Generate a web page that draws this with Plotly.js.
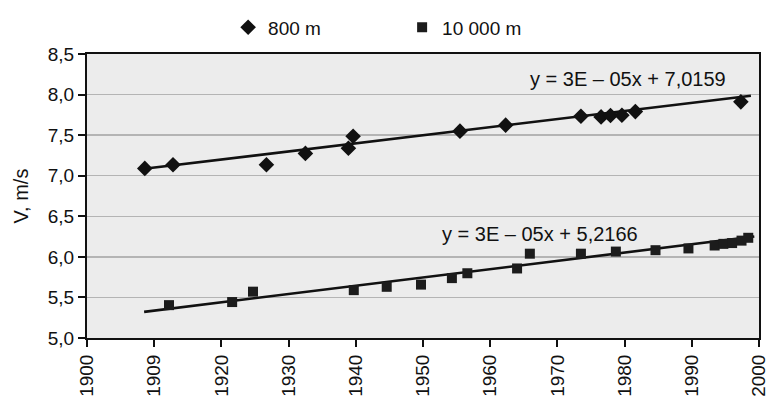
<!DOCTYPE html>
<html>
<head>
<meta charset="utf-8">
<script src="https://cdn.plot.ly/plotly-3.0.1.min.js"></script>
<style>html,body{margin:0;padding:0;background:#fff;}#chart{width:768px;height:399px;}</style>
</head>
<body>
<div id="chart"></div>
<script>
// 800 m world-record speeds (year, m/s)
const years800 = [1908.6, 1912.8, 1926.7, 1932.5, 1938.9, 1939.6, 1955.5, 1962.3, 1973.5, 1976.5, 1977.9, 1979.6, 1981.6, 1997.3];
const speed800 = [7.09, 7.135, 7.135, 7.275, 7.338, 7.487, 7.549, 7.623, 7.733, 7.725, 7.742, 7.745, 7.79, 7.91];
// 10 000 m
const years10k = [1912.2, 1921.6, 1924.7, 1939.7, 1944.6, 1949.7, 1954.3, 1956.6, 1964.0, 1965.9, 1973.5, 1978.7, 1984.6, 1989.5, 1993.4, 1994.7, 1996.0, 1997.4, 1998.4];
const speed10k = [5.405, 5.443, 5.571, 5.59, 5.631, 5.658, 5.738, 5.798, 5.857, 6.039, 6.039, 6.065, 6.082, 6.104, 6.14, 6.16, 6.17, 6.2, 6.235];
// linear trend lines (end points)
const trend800X = [1908.5, 1998.8];
const trend800Y = [7.085, 7.985];
const trend10kX = [1908.5, 1999.3];
const trend10kY = [5.322, 6.25];
const trendLabels = ["y = 3E – 05x + 7,0159", "y = 3E – 05x + 5,2166"];
const seriesNames = ["800 m", "10 000 m"];
const xTickVals = [1900, 1910, 1920, 1930, 1940, 1950, 1960, 1970, 1980, 1990, 2000];
const xTickText = ["1900", "1909", "1920", "1930", "1940", "1950", "1960", "1970", "1980", "1990", "2000"];

const FONT = "Liberation Sans, Arial, sans-serif";
const data = [
  {x: trend800X, y: trend800Y, mode: "lines", line: {color: "#111", width: 2.6}, showlegend: false, hoverinfo: "skip"},
  {x: trend10kX, y: trend10kY, mode: "lines", line: {color: "#111", width: 2.6}, showlegend: false, hoverinfo: "skip"},
  {x: years800, y: speed800, name: seriesNames[0], mode: "markers", type: "scatter",
   marker: {symbol: "diamond", size: 12, color: "#111"}},
  {x: years10k, y: speed10k, name: seriesNames[1], mode: "markers", type: "scatter",
   marker: {symbol: "square", size: 10, color: "#1c1c1c"}}
];
const layout = {
  width: 768, height: 399,
  margin: {l: 87, r: 9, t: 53, b: 61},
  paper_bgcolor: "#ffffff",
  plot_bgcolor: "#ececec",
  separators: ", ",
  font: {family: FONT, color: "#111", size: 18},
  showlegend: true,
  legend: {orientation: "h", x: 0.21, y: 1.09, xanchor: "left", yanchor: "middle",
           font: {size: 19, family: FONT, color: "#111"}, bgcolor: "rgba(0,0,0,0)", entrywidth: 129, entrywidthmode: "pixels"},
  xaxis: {range: [1900, 2000], tickmode: "array", tickvals: xTickVals, ticktext: xTickText,
          tickangle: -90, ticks: "outside", ticklen: 7, tickwidth: 2, tickcolor: "#111",
          ticklabeloverflow: "allow",
          showline: true, linecolor: "#111", linewidth: 2, mirror: true,
          showgrid: false, zeroline: false, tickfont: {size: 19, family: FONT, color: "#111"}},
  yaxis: {range: [5, 8.5], dtick: 0.5, tick0: 5, tickformat: ".1f", ticks: "outside", ticklen: 7, tickwidth: 2, tickcolor: "#111",
          showline: true, linecolor: "#111", linewidth: 2, mirror: true,
          showgrid: true, gridcolor: "#b4b4b4", gridwidth: 1.5, zeroline: false,
          tickfont: {size: 19, family: FONT, color: "#111"},
          title: {text: "V, m/s", font: {size: 20, family: FONT, color: "#111"}, standoff: 14}},
  annotations: [
    {x: 1980.5, y: 8.19, xref: "x", yref: "y", text: trendLabels[0], showarrow: false,
     font: {size: 20, family: FONT, color: "#111"}},
    {x: 1967.4, y: 6.278, xref: "x", yref: "y", text: trendLabels[1], showarrow: false,
     font: {size: 20, family: FONT, color: "#111"}}
  ]
};
Plotly.newPlot("chart", data, layout, {staticPlot: true, displayModeBar: false});
</script>
</body>
</html>
